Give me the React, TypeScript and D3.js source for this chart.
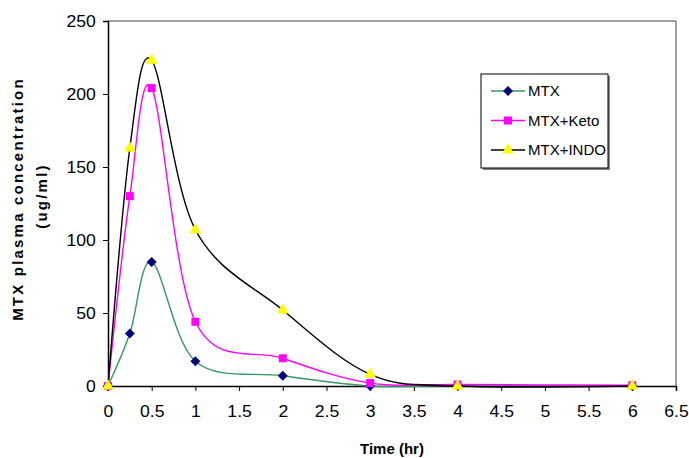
import { useRef, useEffect } from "react";
import * as d3 from "d3";

// Data
const times = [0, 0.25, 0.5, 1, 2, 3, 4, 6];
const mtx = [0, 36, 85, 17, 7, 0, 0.3, 0];
const mtxKeto = [0, 130, 204, 44, 19, 2, 1, 0.5];
const mtxIndo = [0, 163, 223, 107, 52, 8, 0, 0];
const xTicks = [0, 0.5, 1, 1.5, 2, 2.5, 3, 3.5, 4, 4.5, 5, 5.5, 6, 6.5];
const yTicks = [0, 50, 100, 150, 200, 250];

const series = [
  { name: "MTX", values: mtx, stroke: "#339966", fill: "#000080", shape: d3.symbolSquare, size: 50, rot: 45 },
  { name: "MTX+Keto", values: mtxKeto, stroke: "#FF00FF", fill: "#FF00FF", shape: d3.symbolSquare, size: 64, rot: 0 },
  { name: "MTX+INDO", values: mtxIndo, stroke: "#000000", fill: "#FFFF00", shape: d3.symbolTriangle, size: 60, rot: 0 },
];

const W = 689;
const H = 458;
const m = { left: 108, top: 21, right: 13, bottom: 72 };

export default function App() {
  const ref = useRef<SVGSVGElement | null>(null);

  useEffect(() => {
    const svg = d3.select(ref.current);
    svg.selectAll("*").remove();

    const x = d3.scaleLinear().domain([0, 6.5]).range([m.left, W - m.right]);
    const y = d3.scaleLinear().domain([0, 250]).range([H - m.bottom, m.top]);

    const font = "Arial, 'Liberation Sans', sans-serif";

    // frame: top + right gray
    svg.append("line").attr("x1", x(0)).attr("x2", x(6.5)).attr("y1", y(250)).attr("y2", y(250))
      .attr("stroke", "#808080").attr("stroke-width", 1.5);
    svg.append("line").attr("x1", x(6.5)).attr("x2", x(6.5)).attr("y1", y(250)).attr("y2", y(0))
      .attr("stroke", "#808080").attr("stroke-width", 1.5);

    // axes
    const xAxis = svg.append("g").attr("transform", `translate(0,${y(0)})`)
      .call(d3.axisBottom(x).tickValues(xTicks).tickSize(5).tickPadding(15).tickFormat((d) => String(d)));
    const yAxis = svg.append("g").attr("transform", `translate(${x(0)},0)`)
      .call(d3.axisLeft(y).tickValues(yTicks).tickSize(5).tickPadding(6));
    [xAxis, yAxis].forEach((g) => {
      g.select(".domain").attr("stroke", "#000").attr("stroke-width", 1.5);
      g.selectAll(".tick line").attr("stroke", "#000").attr("stroke-width", 1);
      g.selectAll(".tick text").attr("font-family", font).attr("font-size", 16).attr("fill", "#000")
        .attr("transform", "scale(1.1,1)");
    });

    const lineGen = d3.line<number>()
      .x((_, i) => x(times[i]))
      .y((d) => y(d))
      .curve(d3.curveCardinal.tension(0));

    series.forEach((s) => {
      svg.append("path").attr("d", lineGen(s.values))
        .attr("fill", "none").attr("stroke", s.stroke).attr("stroke-width", 1.4);
    });
    series.forEach((s) => {
      const sym = d3.symbol().type(s.shape).size(s.size);
      svg.append("g").selectAll("path").data(s.values).join("path")
        .attr("d", sym)
        .attr("transform", (d, i) => `translate(${x(times[i])},${y(d)}) rotate(${s.rot})`)
        .attr("fill", s.fill);
    });

    // legend
    const lg = svg.append("g").attr("transform", "translate(481,74)");
    lg.append("rect").attr("x", 2).attr("y", 2).attr("width", 127).attr("height", 94).attr("fill", "#808080");
    lg.append("rect").attr("width", 127).attr("height", 94).attr("fill", "#fff").attr("stroke", "#000").attr("stroke-width", 1);
    series.forEach((s, i) => {
      const cy = 17 + i * 29.5;
      lg.append("line").attr("x1", 10).attr("x2", 44).attr("y1", cy).attr("y2", cy)
        .attr("stroke", s.stroke).attr("stroke-width", 1.4);
      lg.append("path").attr("d", d3.symbol().type(s.shape).size(s.size)())
        .attr("transform", `translate(27,${cy}) rotate(${s.rot})`).attr("fill", s.fill);
      lg.append("text").attr("x", 47).attr("y", cy).attr("dy", "0.36em")
        .attr("font-family", font).attr("font-size", 15).text(s.name);
    });

    // axis titles
    svg.append("text").attr("x", (x(0) + x(6.5)) / 2).attr("y", 454)
      .attr("text-anchor", "middle").attr("font-family", font).attr("font-size", 15)
      .attr("font-weight", "bold").text("Time (hr)");
    const cyMid = 199;
    svg.append("text").attr("transform", `translate(23,${cyMid}) rotate(-90)`)
      .attr("text-anchor", "middle").attr("font-family", font).attr("font-size", 15)
      .attr("font-weight", "bold").attr("letter-spacing", 2.2).text("MTX plasma concentration");
    svg.append("text").attr("transform", `translate(47,${cyMid - 3}) rotate(-90)`)
      .attr("text-anchor", "middle").attr("font-family", font).attr("font-size", 15)
      .attr("font-weight", "bold").attr("letter-spacing", 2.2).text("(ug/ml)");
  }, []);

  return (
    <svg ref={ref} width={W} height={H} style={{ position: "absolute", left: 0, top: 0, background: "#fff" }} />
  );
}
